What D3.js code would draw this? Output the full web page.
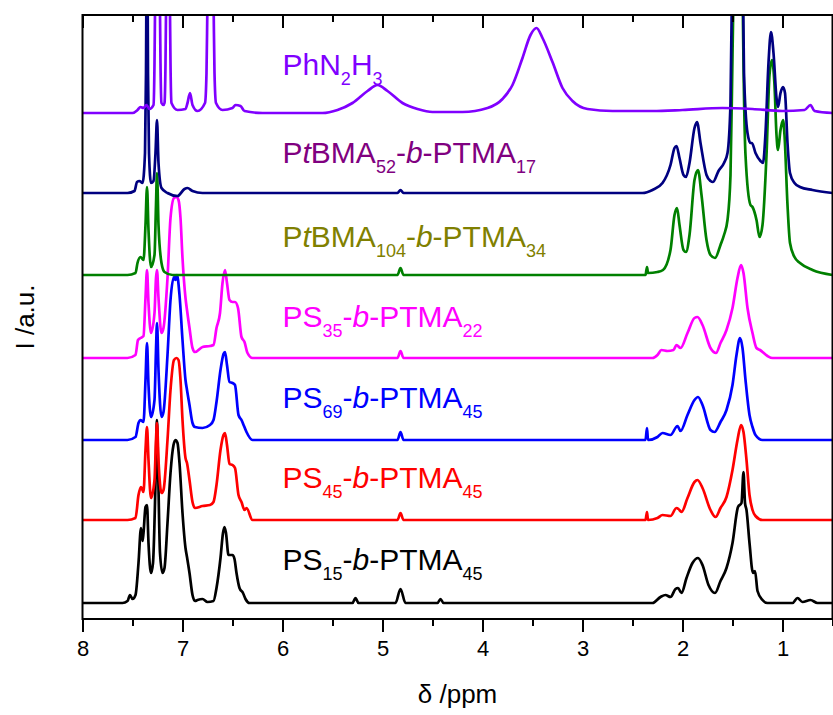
<!DOCTYPE html>
<html>
<head>
<meta charset="utf-8">
<script src="https://cdn.jsdelivr.net/npm/d3@7"></script>
<style>
  body { margin: 0; background: #fff; }
  svg { display: block; font-family: Arial, "Liberation Sans", sans-serif; }
</style>
</head>
<body>
<div id="chart"></div>
<script>
// each trace: [ppm, intensity above its own baseline]
const ps15 = [[8,0],[7.6,0],[7.55,2],[7.525,8],[7.5,4],[7.47,8],[7.44,40],[7.415,75],[7.4,62],[7.39,70],[7.37,96],[7.355,98],[7.34,60],[7.315,30],[7.295,40],[7.27,120],[7.255,183],[7.245,140],[7.225,50],[7.2,30],[7.18,35],[7.15,80],[7.12,130],[7.09,158],[7.07,163],[7.05,160],[7.03,140],[7,90],[6.97,55],[6.955,46],[6.93,30],[6.9,8],[6.875,2],[6.85,3],[6.8,4],[6.75,1],[6.69,2],[6.66,15],[6.62,45],[6.595,70],[6.58,76],[6.565,70],[6.54,48],[6.5,48],[6.48,44],[6.46,30],[6.43,15],[6.395,10],[6.37,4],[6.33,0],[5.3,0],[5.27,5],[5.24,0],[4.87,0],[4.82,14],[4.77,0],[4.45,0],[4.42,4],[4.39,0],[2.3,0],[2.22,6],[2.17,8],[2.12,6],[2.07,14],[2.045,15],[2.01,10],[1.96,25],[1.9,40],[1.845,45],[1.8,38],[1.74,18],[1.675,10],[1.62,22],[1.56,35],[1.5,60],[1.445,96],[1.41,100],[1.39,131],[1.375,100],[1.36,93],[1.33,60],[1.295,30],[1.275,32],[1.25,12],[1.2,3],[1.15,0],[0.9,0],[0.85,5],[0.8,1],[0.72,3],[0.65,0],[0.5,0]]
const ps45 = [[8,0],[7.55,0],[7.47,2],[7.44,25],[7.415,33],[7.39,28],[7.37,70],[7.355,93],[7.34,60],[7.315,22],[7.28,40],[7.265,80],[7.255,97],[7.24,60],[7.21,27],[7.19,30],[7.15,80],[7.12,130],[7.085,160],[7.06,162],[7.04,160],[7.02,140],[7,100],[6.97,62],[6.955,57],[6.93,40],[6.9,18],[6.875,12],[6.8,14],[6.725,15],[6.69,18],[6.66,35],[6.62,70],[6.59,85],[6.575,87],[6.555,75],[6.53,56],[6.5,55],[6.475,52],[6.44,25],[6.41,18],[6.38,10],[6.36,12],[6.3,0],[4.85,0],[4.82,7],[4.79,0],[2.37,0],[2.355,8],[2.345,0],[2.25,2],[2.2,5],[2.12,4],[2.06,12],[2.04,11],[2.01,8],[1.95,22],[1.88,38],[1.85,40],[1.8,32],[1.72,10],[1.67,3],[1.62,12],[1.56,23],[1.5,50],[1.45,80],[1.415,95],[1.39,88],[1.36,60],[1.33,25],[1.3,10],[1.27,4],[1.2,0],[0.5,0]]
const ps69 = [[8,0],[7.55,0],[7.47,3],[7.44,17],[7.42,20],[7.39,18],[7.37,60],[7.355,97],[7.34,55],[7.315,23],[7.28,40],[7.265,90],[7.255,117],[7.24,70],[7.21,23],[7.19,28],[7.15,85],[7.12,140],[7.085,163],[7.07,160],[7.055,165],[7.03,145],[7,100],[6.97,60],[6.955,50],[6.93,35],[6.9,17],[6.875,13],[6.8,12],[6.725,15],[6.69,20],[6.66,38],[6.62,70],[6.59,86],[6.575,88],[6.555,75],[6.53,58],[6.5,57],[6.475,55],[6.44,25],[6.41,20],[6.385,14],[6.36,8],[6.3,0],[4.85,0],[4.82,8],[4.79,0],[2.37,0],[2.355,12],[2.345,0],[2.25,3],[2.2,7],[2.12,5],[2.05,14],[2.02,9],[1.95,25],[1.88,40],[1.845,43],[1.8,35],[1.72,10],[1.68,8],[1.62,18],[1.56,30],[1.5,55],[1.46,85],[1.425,102],[1.4,92],[1.37,60],[1.33,25],[1.3,13],[1.27,5],[1.2,0],[0.5,0]]
const ps35 = [[8,0],[7.55,0],[7.47,3],[7.445,18],[7.42,20],[7.39,22],[7.37,60],[7.355,88],[7.34,55],[7.315,25],[7.28,45],[7.265,80],[7.255,88],[7.24,60],[7.21,25],[7.19,30],[7.15,80],[7.12,140],[7.085,160],[7.06,161],[7.04,158],[7.02,140],[7,100],[6.97,60],[6.955,48],[6.93,30],[6.9,10],[6.875,6],[6.8,11],[6.725,12],[6.69,13],[6.66,30],[6.625,45],[6.6,75],[6.575,88],[6.555,75],[6.53,58],[6.5,56],[6.475,56],[6.445,50],[6.41,21],[6.38,16],[6.35,5],[6.3,0],[4.85,0],[4.82,7],[4.79,0],[2.3,0],[2.25,3],[2.21,8],[2.15,7],[2.09,8],[2.06,13],[2.02,10],[1.95,25],[1.88,40],[1.85,41],[1.8,33],[1.72,10],[1.665,5],[1.62,15],[1.56,28],[1.5,50],[1.45,80],[1.415,93],[1.39,85],[1.35,50],[1.3,25],[1.26,10],[1.225,8],[1.15,2],[1.1,0],[0.5,0]]
const ptbma104 = [[8,0],[7.55,0],[7.47,2],[7.45,12],[7.42,18],[7.39,15],[7.37,50],[7.355,88],[7.34,45],[7.315,8],[7.28,20],[7.265,70],[7.255,102],[7.24,50],[7.21,12],[7.18,3],[7.1,0],[4.85,0],[4.82,7],[4.79,0],[2.37,0],[2.355,8],[2.345,2],[2.25,3],[2.195,5],[2.12,25],[2.08,60],[2.055,67],[2.03,50],[1.99,25],[1.965,23],[1.93,40],[1.88,95],[1.845,105],[1.81,80],[1.76,35],[1.72,20],[1.675,17],[1.62,30],[1.585,40],[1.55,55],[1.52,100],[1.5,220],[1.47,400],[1.44,520],[1.41,400],[1.395,250],[1.37,120],[1.32,70],[1.3,68],[1.26,55],[1.23,38],[1.2,50],[1.16,120],[1.13,200],[1.105,215],[1.08,190],[1.06,140],[1.045,125],[1.02,145],[0.995,155],[0.98,140],[0.95,70],[0.925,32],[0.88,18],[0.825,12],[0.7,5],[0.5,0]]
const ptbma52 = [[8,0],[7.55,0],[7.48,2],[7.455,11],[7.43,12],[7.4,10],[7.375,40],[7.365,120],[7.355,300],[7.345,120],[7.335,40],[7.315,10],[7.29,12],[7.27,40],[7.255,73],[7.24,30],[7.21,5],[7.15,0],[7.05,-3],[6.98,4],[6.95,5],[6.9,2],[6.8,0],[4.85,0],[4.82,3],[4.79,0],[2.4,0],[2.3,3],[2.2,10],[2.12,28],[2.08,45],[2.06,47],[2.03,35],[1.99,18],[1.965,16],[1.93,30],[1.88,65],[1.855,71],[1.82,50],[1.76,18],[1.72,12],[1.695,11],[1.64,22],[1.585,30],[1.55,40],[1.52,90],[1.5,250],[1.45,420],[1.4,250],[1.385,120],[1.35,60],[1.32,50],[1.305,50],[1.27,40],[1.22,32],[1.195,30],[1.17,60],[1.14,130],[1.115,161],[1.09,140],[1.06,95],[1.045,86],[1.02,100],[0.995,106],[0.975,100],[0.95,50],[0.925,20],[0.88,10],[0.825,6],[0.7,3],[0.5,0]]
const phn2h3 = [[8,0],[7.5,0],[7.45,3],[7.42,6],[7.39,5],[7.36,8],[7.33,4],[7.29,8],[7.28,50],[7.275,100],[7.25,300],[7.225,100],[7.22,50],[7.21,10],[7.19,8],[7.18,10],[7.17,50],[7.165,100],[7.145,300],[7.125,100],[7.12,50],[7.11,10],[7.05,3],[6.97,4],[6.95,10],[6.925,20],[6.9,8],[6.85,2],[6.775,10],[6.76,40],[6.752,100],[6.72,400],[6.688,100],[6.68,40],[6.665,10],[6.6,3],[6.5,5],[6.47,8],[6.42,7],[6.38,2],[6.2,0],[5.6,0],[5.45,3],[5.3,10],[5.15,22],[5.05,28],[4.95,22],[4.8,10],[4.65,4],[4.5,1],[4.2,1],[3.95,5],[3.8,14],[3.7,28],[3.6,55],[3.52,78],[3.46,85],[3.4,75],[3.3,51],[3.2,25],[3.1,12],[2.95,4],[2.7,2],[2.3,2],[2,3],[1.6,5],[1.3,4],[1,2],[0.78,3],[0.72,8],[0.68,2],[0.5,0]]

// bottom to top
const traces = [ps15, ps45, ps69, ps35, ptbma104, ptbma52, phn2h3]
const offsets = [16, 99, 179, 261, 344, 426, 506]
const labelLevels = [49, 131, 211, 292, 372, 456, 544]
const lineColors = ["#000000", "#ff0000", "#0000ff", "#ff00ff", "#008000", "#000080", "#8000ff"]
const labelColors = ["#000000", "#ff0000", "#0000ff", "#ff00ff", "#808000", "#800080", "#8000ff"]
const labels = [
  [["PS"], ["15", "sub"], ["-"], ["b", "it"], ["-PTMA"], ["45", "sub"]],
  [["PS"], ["45", "sub"], ["-"], ["b", "it"], ["-PTMA"], ["45", "sub"]],
  [["PS"], ["69", "sub"], ["-"], ["b", "it"], ["-PTMA"], ["45", "sub"]],
  [["PS"], ["35", "sub"], ["-"], ["b", "it"], ["-PTMA"], ["22", "sub"]],
  [["P"], ["t", "it"], ["BMA"], ["104", "sub"], ["-"], ["b", "it"], ["-PTMA"], ["34", "sub"]],
  [["P"], ["t", "it"], ["BMA"], ["52", "sub"], ["-"], ["b", "it"], ["-PTMA"], ["17", "sub"]],
  [["PhN"], ["2", "sub"], ["H"], ["3", "sub"]]
]
const majorTicks = [8, 7, 6, 5, 4, 3, 2, 1]
const minorTicks = [7.5, 6.5, 5.5, 4.5, 3.5, 2.5, 1.5, 0.5]
const labelPpm = 6.0

const W = 833, H = 715
const m = {left: 82.5, right: 832.5, top: 15, bottom: 619}

const svg = d3.select("#chart").append("svg")
    .attr("width", W)
    .attr("height", H)

const x = d3.scaleLinear().domain([8, 0.5]).range([m.left, m.right])
const y = d3.scaleLinear().domain([0, 604]).range([m.bottom, m.top])

svg.append("clipPath").attr("id", "plot")
  .append("rect")
    .attr("x", m.left).attr("y", m.top)
    .attr("width", m.right - m.left).attr("height", m.bottom - m.top)

const g = svg.append("g").attr("clip-path", "url(#plot)")

traces.forEach((pts, i) => {
  const line = d3.line()
      .x(d => x(d[0]))
      .y(d => y(d[1] + offsets[i]))
      .curve(d3.curveMonotoneX)
  g.append("path")
      .datum(pts)
      .attr("fill", "none")
      .attr("stroke", lineColors[i])
      .attr("stroke-width", 2.7)
      .attr("stroke-linejoin", "round")
      .attr("d", line)
})

labels.forEach((parts, i) => {
  const t = svg.append("text")
      .attr("x", x(labelPpm))
      .attr("y", y(labelLevels[i]))
      .attr("fill", labelColors[i])
      .attr("font-size", 30)
  let shifted = false
  parts.forEach(([s, kind]) => {
    const sp = t.append("tspan").text(s)
    if (kind === "sub") {
      sp.attr("font-size", 18).attr("dy", shifted ? 0 : 10)
      shifted = true
    } else {
      if (shifted) sp.attr("dy", -10)
      shifted = false
      if (kind === "it") sp.attr("font-style", "italic")
    }
  })
})

// frame
svg.append("rect")
    .attr("x", m.left).attr("y", m.top)
    .attr("width", m.right - m.left).attr("height", m.bottom - m.top)
    .attr("fill", "none").attr("stroke", "#000").attr("stroke-width", 2)

const axisStyle = (sel) => {
  sel.select(".domain").remove()
  sel.selectAll("line").attr("stroke", "#000").attr("stroke-width", 2)
}

svg.append("g").attr("transform", `translate(0,${m.bottom})`)
    .call(d3.axisBottom(x).tickValues(majorTicks).tickSize(13).tickPadding(8).tickFormat(d3.format("d")))
    .call(axisStyle)
    .call(s => s.attr("font-family", null).attr("font-size", null))
    .call(s => s.selectAll("text").attr("font-size", 22).attr("fill", "#000"))

svg.append("g").attr("transform", `translate(0,${m.bottom})`)
    .call(d3.axisBottom(x).tickValues(minorTicks).tickSize(7).tickFormat(""))
    .call(axisStyle)

svg.append("g").attr("transform", `translate(0,${m.top})`)
    .call(d3.axisTop(x).tickValues(majorTicks).tickSize(-13).tickFormat(""))
    .call(axisStyle)

svg.append("g").attr("transform", `translate(0,${m.top})`)
    .call(d3.axisTop(x).tickValues(minorTicks).tickSize(-7).tickFormat(""))
    .call(axisStyle)

svg.append("text")
    .attr("x", (m.left + m.right) / 2)
    .attr("y", 703)
    .attr("text-anchor", "middle")
    .attr("font-size", 26)
    .text("δ /ppm")

svg.append("text")
    .attr("transform", `translate(34,${(m.top + m.bottom) / 2}) rotate(-90)`)
    .attr("text-anchor", "middle")
    .attr("font-size", 26)
    .text("I /a.u.")
</script>
</body>
</html>
